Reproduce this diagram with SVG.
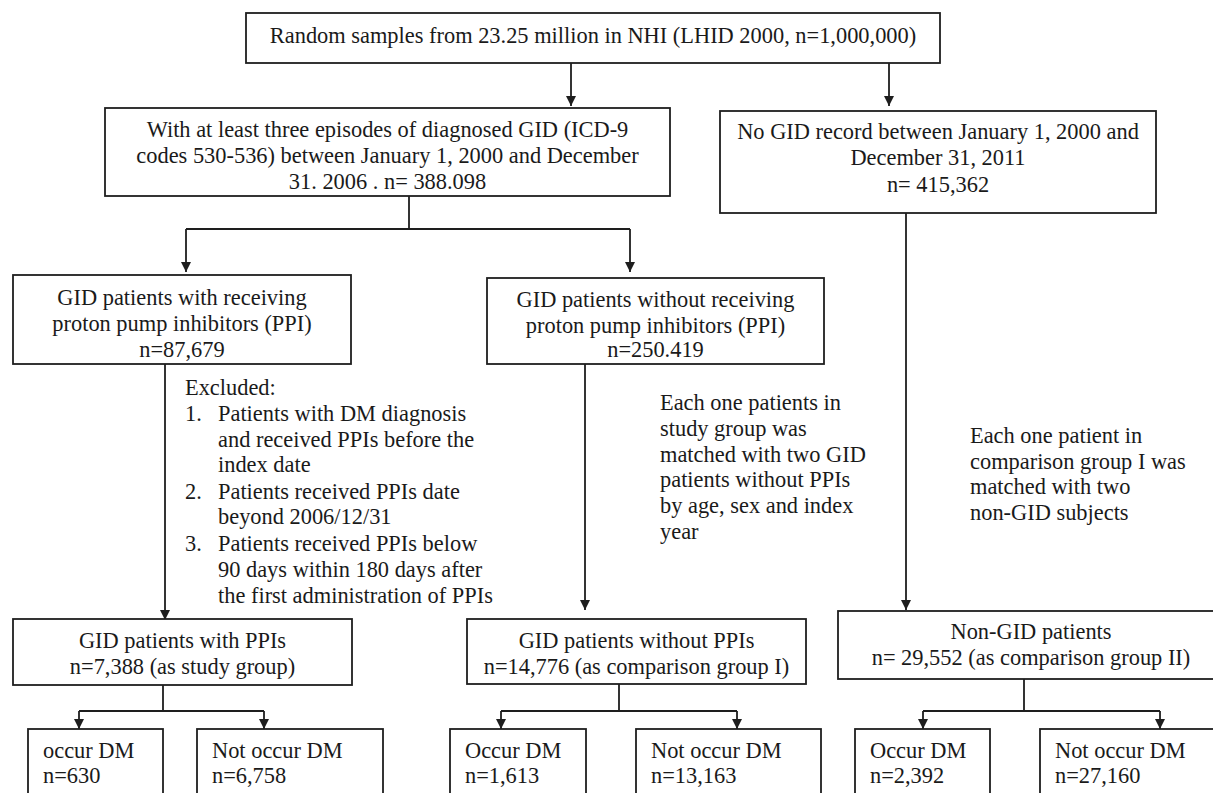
<svg xmlns="http://www.w3.org/2000/svg" width="1213" height="793" viewBox="0 0 1213 793">
<style>
.box{fill:#fff;stroke:#1e1e1e;stroke-width:1.8}
.ln{fill:none;stroke:#1e1e1e;stroke-width:1.8}
text{font-family:"Liberation Serif","Times New Roman",serif;font-size:22.4px;fill:#1a1a1a}
.c{text-anchor:middle}
</style>
<defs>
<marker id="ah" viewBox="0 0 10 10" refX="10" refY="5" markerWidth="10" markerHeight="10" markerUnits="userSpaceOnUse" orient="auto">
<path d="M0,0 L10,5 L0,10 Z" fill="#1e1e1e"/>
</marker>
</defs>
<rect width="1213" height="793" fill="#fff"/>
<g id="connectors">
<path class="ln" d="M571,63 V106" marker-end="url(#ah)"/>
<path class="ln" d="M889,61 V106" marker-end="url(#ah)"/>
<path class="ln" d="M409,196 V229"/>
<path class="ln" d="M186,229 H630"/>
<path class="ln" d="M186,229 V272" marker-end="url(#ah)"/>
<path class="ln" d="M630,229 V272" marker-end="url(#ah)"/>
<path class="ln" d="M165,364 V620" marker-end="url(#ah)"/>
<path class="ln" d="M585,364 V610" marker-end="url(#ah)"/>
<path class="ln" d="M906,213 V610" marker-end="url(#ah)"/>
<path class="ln" d="M163,685 V711 M79,711 H264"/>
<path class="ln" d="M79,711 V729" marker-end="url(#ah)"/>
<path class="ln" d="M264,711 V729" marker-end="url(#ah)"/>
<path class="ln" d="M619,684 V711 M501,711 H737"/>
<path class="ln" d="M501,711 V729" marker-end="url(#ah)"/>
<path class="ln" d="M737,711 V729" marker-end="url(#ah)"/>
<path class="ln" d="M1024,679 V711 M923,711 H1160"/>
<path class="ln" d="M923,711 V729" marker-end="url(#ah)"/>
<path class="ln" d="M1160,711 V729" marker-end="url(#ah)"/>
</g>
<g id="n-top">
<rect class="box" x="246" y="13" width="694" height="50"/>
<text class="c" x="593" y="43">Random samples from 23.25 million in NHI (LHID 2000, n=1,000,000)</text>
</g>
<g id="n-gid">
<rect class="box" x="105" y="108" width="565" height="88"/>
<text class="c" x="387.5" y="137">With at least three episodes of diagnosed GID (ICD-9</text>
<text class="c" x="387.5" y="163">codes 530-536) between January 1, 2000 and December</text>
<text class="c" x="387.5" y="189">31. 2006 . n= 388.098</text>
</g>
<g id="n-nogid">
<rect class="box" x="720" y="111" width="436" height="102"/>
<text class="c" x="938" y="139">No GID record between January 1, 2000 and</text>
<text class="c" x="938" y="165">December 31, 2011</text>
<text class="c" x="938" y="192">n= 415,362</text>
</g>
<g id="n-ppi">
<rect class="box" x="13" y="275" width="338" height="89"/>
<text class="c" x="182" y="305">GID patients with receiving</text>
<text class="c" x="182" y="331">proton pump inhibitors (PPI)</text>
<text class="c" x="182" y="357">n=87,679</text>
</g>
<g id="n-noppi">
<rect class="box" x="487" y="278" width="337" height="86"/>
<text class="c" x="655.5" y="307">GID patients without receiving</text>
<text class="c" x="655.5" y="333">proton pump inhibitors (PPI)</text>
<text class="c" x="655.5" y="357">n=250.419</text>
</g>
<g id="note-excluded">
<text x="185" y="395">Excluded:</text>
<text x="185" y="421">1.</text><text x="218" y="421">Patients with DM diagnosis</text>
<text x="218" y="447">and received PPIs before the</text>
<text x="218" y="472">index date</text>
<text x="185" y="499">2.</text><text x="218" y="499">Patients received PPIs date</text>
<text x="218" y="524">beyond 2006/12/31</text>
<text x="185" y="551">3.</text><text x="218" y="551">Patients received PPIs below</text>
<text x="218" y="577">90 days within 180 days after</text>
<text x="218" y="603">the first administration of PPIs</text>
</g>
<g id="note-match1">
<text x="660" y="410">Each one patients in</text>
<text x="660" y="436">study group was</text>
<text x="660" y="462">matched with two GID</text>
<text x="660" y="487">patients without PPIs</text>
<text x="660" y="513">by age, sex and index</text>
<text x="660" y="539">year</text>
</g>
<g id="note-match2">
<text x="970" y="443">Each one patient in</text>
<text x="970" y="469">comparison group I was</text>
<text x="970" y="494">matched with two</text>
<text x="970" y="520">non-GID subjects</text>
</g>
<g id="n-study">
<rect class="box" x="13" y="619" width="339" height="66"/>
<text class="c" x="182.5" y="648">GID patients with PPIs</text>
<text class="c" x="182.5" y="674">n=7,388 (as study group)</text>
</g>
<g id="n-comp1">
<rect class="box" x="467" y="619" width="339" height="65"/>
<text class="c" x="636.5" y="648">GID patients without PPIs</text>
<text class="c" x="636.5" y="674">n=14,776 (as comparison group I)</text>
</g>
<g id="n-comp2">
<rect class="box" x="838" y="611" width="386" height="68"/>
<text class="c" x="1031" y="639">Non-GID patients</text>
<text class="c" x="1031" y="665">n= 29,552 (as comparison group II)</text>
</g>
<g id="n-s-occ">
<rect class="box" x="28" y="729" width="135" height="80"/>
<text x="43" y="758">occur DM</text>
<text x="43" y="783">n=630</text>
</g>
<g id="n-s-not">
<rect class="box" x="197" y="729" width="186" height="80"/>
<text x="212" y="758">Not occur DM</text>
<text x="212" y="783">n=6,758</text>
</g>
<g id="n-c1-occ">
<rect class="box" x="450" y="729" width="136" height="80"/>
<text x="465" y="758">Occur DM</text>
<text x="465" y="783">n=1,613</text>
</g>
<g id="n-c1-not">
<rect class="box" x="636" y="729" width="185" height="80"/>
<text x="651" y="758">Not occur DM</text>
<text x="651" y="783">n=13,163</text>
</g>
<g id="n-c2-occ">
<rect class="box" x="855" y="729" width="135" height="80"/>
<text x="870" y="758">Occur DM</text>
<text x="870" y="783">n=2,392</text>
</g>
<g id="n-c2-not">
<rect class="box" x="1040" y="729" width="186" height="80"/>
<text x="1055" y="758">Not occur DM</text>
<text x="1055" y="783">n=27,160</text>
</g>
</svg>
